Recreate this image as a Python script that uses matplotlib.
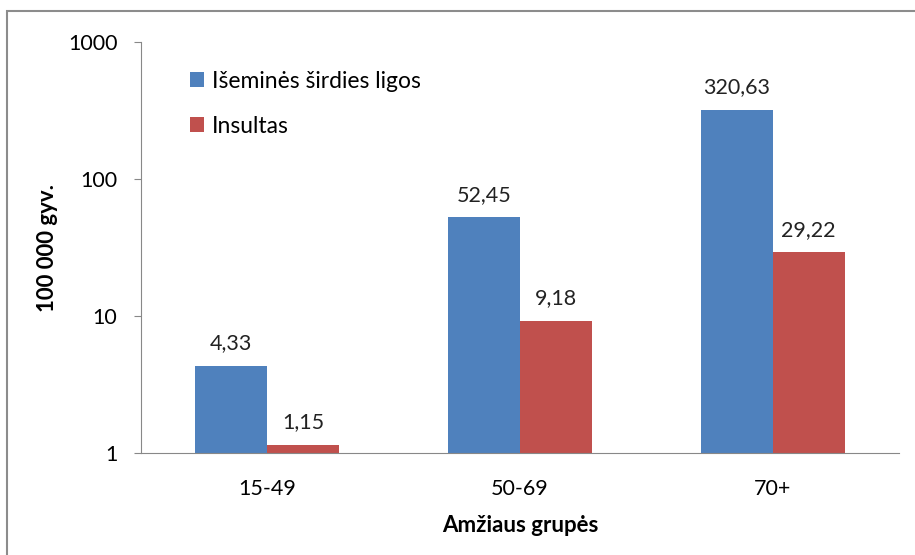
import matplotlib.pyplot as plt
import matplotlib.ticker as mticker
from matplotlib.patches import Rectangle
import numpy as np

plt.rcParams['font.family'] = ['Lato', 'DejaVu Sans']

categories = ['15-49', '50-69', '70+']
ischemic = [4.33, 52.45, 320.63]
stroke = [1.15, 9.18, 29.22]
series_names = ['Išeminės širdies ligos', 'Insultas']
colors = ['#4F81BD', '#C0504D']


def fmt(v):
    return f'{v:.2f}'.replace('.', ',')


fig = plt.figure(figsize=(9.15, 5.55), dpi=100)
ax = fig.add_axes([0.1541, 0.1838, 0.8284, 0.7405])

x = np.arange(len(categories))
w = 0.285
bars1 = ax.bar(x - w / 2, ischemic, w, color=colors[0], label=series_names[0])
bars2 = ax.bar(x + w / 2, stroke, w, color=colors[1], label=series_names[1])

for bars, vals in ((bars1, ischemic), (bars2, stroke)):
    for b, v in zip(bars, vals):
        ax.annotate(fmt(v), (b.get_x() + b.get_width() / 2, v),
                    xytext=(0, 9), textcoords='offset points',
                    ha='center', va='bottom', fontsize=15.5, color='#222222')

ax.set_yscale('log')
ax.set_ylim(1, 1000)
ax.set_xlim(-0.5, 2.5)
ax.yaxis.set_major_locator(mticker.FixedLocator([1, 10, 100, 1000]))
ax.yaxis.set_major_formatter(mticker.FuncFormatter(lambda v, p: f'{int(v)}'))
ax.yaxis.set_minor_locator(mticker.NullLocator())
ax.set_xticks(x)
ax.set_xticklabels(categories)

ax.tick_params(axis='y', length=5, color='#888888', labelsize=15.5, pad=12)
ax.tick_params(axis='x', length=0, labelsize=15.5, pad=19)
for s in ('top', 'right'):
    ax.spines[s].set_visible(False)
for s in ('left', 'bottom'):
    ax.spines[s].set_color('#888888')

ax.set_ylabel('100 000 gyv.', fontsize=16, fontweight='bold', labelpad=7)
ax.set_xlabel('Amžiaus grupės', fontsize=16, fontweight='bold', labelpad=11)

leg = ax.legend(loc='upper left', bbox_to_anchor=(0.065, 0.93), frameon=False,
                fontsize=16.5, handlelength=0.6, handleheight=0.6,
                handletextpad=0.35, labelspacing=1.05,
                borderpad=0, borderaxespad=0)

# chart frame
fig.patches.append(Rectangle((7 / 915, -0.1), 1.2, 1.1 - 11 / 555,
                             transform=fig.transFigure, fill=False,
                             edgecolor='#8c8c8c', linewidth=1.5))

fig.savefig('out.png', dpi=100)
